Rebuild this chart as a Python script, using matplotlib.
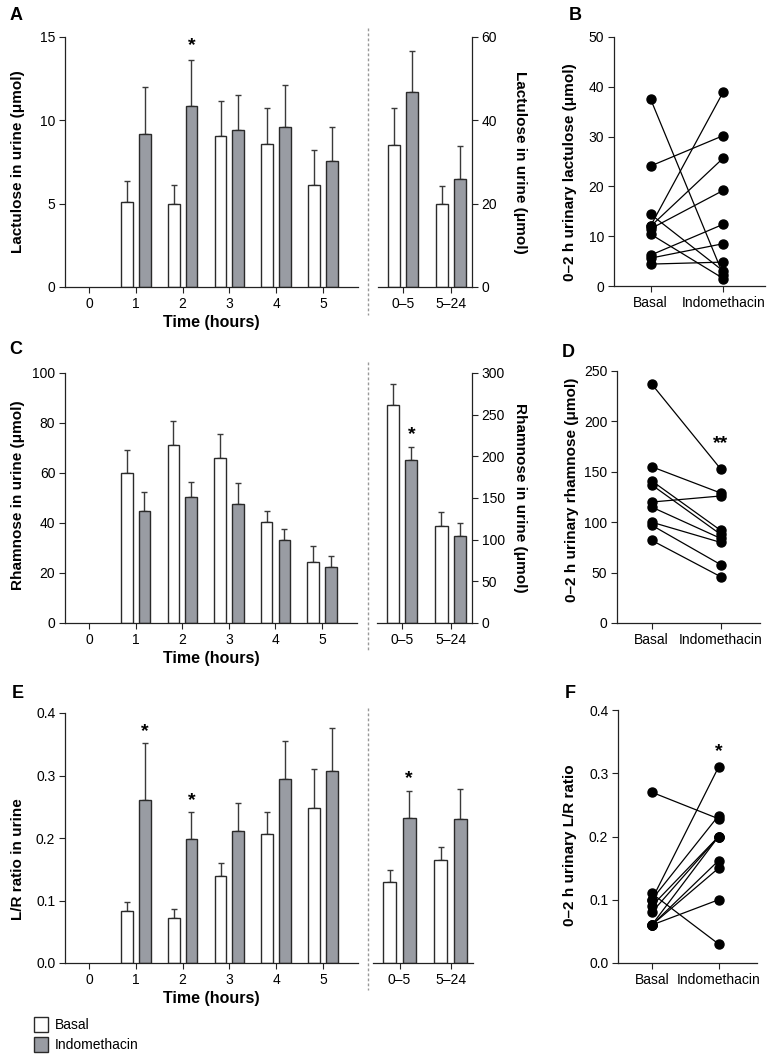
import matplotlib
matplotlib.use('Agg')
import matplotlib.pyplot as plt
from matplotlib.lines import Line2D
from matplotlib.patches import Patch
import numpy as np

plt.rcParams['font.family'] = ['Liberation Sans', 'DejaVu Sans']
plt.rcParams['font.size'] = 10

# ---- data ----
hours = ['0', '1', '2', '3', '4', '5']
periods = ['0\u20135', '5\u201324']
nan = np.nan

# lactulose (umol), hourly and per period
lac_basal = [nan, 5.1, 4.96, 9.06, 8.58, 6.14]
lac_basal_err = [nan, 1.26, 1.16, 2.12, 2.16, 2.08]
lac_indo = [nan, 9.2, 10.84, 9.44, 9.62, 7.56]
lac_indo_err = [nan, 2.8, 2.8, 2.1, 2.5, 2.04]
lac_p_basal = [34.0, 19.9]
lac_p_basal_err = [9.0, 4.3]
lac_p_indo = [46.8, 25.9]
lac_p_indo_err = [9.8, 7.9]

# rhamnose (umol)
rha_basal = [nan, 59.9, 71.2, 66.1, 40.3, 24.5]
rha_basal_err = [nan, 9.3, 9.5, 9.5, 4.7, 6.5]
rha_indo = [nan, 44.9, 50.5, 47.6, 33.1, 22.5]
rha_indo_err = [nan, 7.4, 6.0, 8.4, 4.6, 4.2]
rha_p_basal = [262, 116]
rha_p_basal_err = [25, 17]
rha_p_indo = [196, 104]
rha_p_indo_err = [15, 16]

# L/R ratio
lr_basal = [nan, 0.084, 0.072, 0.139, 0.207, 0.248]
lr_basal_err = [nan, 0.013, 0.015, 0.021, 0.035, 0.063]
lr_indo = [nan, 0.261, 0.198, 0.211, 0.295, 0.307]
lr_indo_err = [nan, 0.091, 0.044, 0.045, 0.060, 0.069]
lr_p_basal = [0.130, 0.165]
lr_p_basal_err = [0.019, 0.020]
lr_p_indo = [0.232, 0.231]
lr_p_indo_err = [0.043, 0.047]

# individual subjects, 0-2 h
groups = ['Basal', 'Indomethacin']
sub_lac_basal = [37.5, 24.1, 14.4, 12.1, 12.0, 11.5, 10.4, 6.2, 5.6, 4.4]
sub_lac_indo = [2.2, 30.2, 3.0, 39.0, 25.7, 19.2, 1.5, 12.4, 8.5, 4.8]
sub_rha_basal = [237, 155, 141, 137, 120, 115, 100, 97, 82]
sub_rha_indo = [153, 129, 92, 88, 126, 84, 80, 58, 46]
sub_lr_basal = [0.27, 0.10, 0.11, 0.10, 0.09, 0.08, 0.06, 0.06, 0.06, 0.06]
sub_lr_indo = [0.228, 0.31, 0.03, 0.233, 0.20, 0.20, 0.20, 0.162, 0.15, 0.10]

# ---- figure ----
W, H = 782, 1058
fig = plt.figure(figsize=(W / 100, H / 100), dpi=100)

GREY = '#999ca3'
EDGE = '#2a2a2a'
ERR = '#3a3a3a'
OFF = 0.19
BW = 0.25


def rect(l, t, r, b):
    return [l / W, 1 - b / H, (r - l) / W, (b - t) / H]


def base_style(ax):
    for s in ax.spines.values():
        s.set_linewidth(0.9)
        s.set_color('#222222')
    ax.spines['top'].set_visible(False)
    ax.tick_params(direction='out', length=4, width=0.8, pad=3, labelsize=10, color='#222222')


def draw_bars(ax, basal, basal_err, indo, indo_err):
    x = np.arange(len(basal))
    zeros = np.zeros(len(basal))
    ax.bar(x - OFF, basal, BW, color='white', edgecolor=EDGE, linewidth=1, zorder=2)
    ax.bar(x + OFF, indo, BW, color=GREY, edgecolor=EDGE, linewidth=1, zorder=2)
    ax.errorbar(x - OFF, basal, yerr=[zeros, basal_err], fmt='none', ecolor=ERR,
                elinewidth=1, capsize=2.5, capthick=1, zorder=1)
    ax.errorbar(x + OFF, indo, yerr=[zeros, indo_err], fmt='none', ecolor=ERR,
                elinewidth=1, capsize=2.5, capthick=1, zorder=1)


def star(ax, i, top, txt='*', dy=7):
    ax.annotate(txt, xy=(i + OFF, top), xytext=(0, dy), textcoords='offset points',
                ha='center', va='center', fontsize=14, fontweight='bold')


def bar_panel(top, bottom, left_r, right_l, right_r, basal, basal_err, indo, indo_err,
              p_basal, p_basal_err, p_indo, p_indo_err, ylim, yticks, ylim2, yticks2,
              right_axis=True, fmt=None):
    ax = fig.add_axes(rect(65, top, left_r, bottom))
    base_style(ax)
    ax.spines['right'].set_visible(False)
    draw_bars(ax, basal, basal_err, indo, indo_err)
    ax.set_xlim(-0.513, 5.748)
    ax.set_xticks(range(len(hours)))
    ax.set_xticklabels(hours)
    ax.set_ylim(*ylim)
    ax.set_yticks(yticks)
    if fmt:
        ax.set_yticklabels([fmt % v for v in yticks])
    ax.set_xlabel('Time (hours)', fontweight='bold', fontsize=11.5, labelpad=3)

    ax2 = fig.add_axes(rect(right_l, top, right_r, bottom))
    base_style(ax2)
    ax2.spines['left'].set_visible(False)
    draw_bars(ax2, p_basal, p_basal_err, p_indo, p_indo_err)
    ax2.set_xlim(-0.52, 1.44)
    ax2.set_xticks(range(len(periods)))
    ax2.set_xticklabels(periods)
    ax2.set_ylim(*ylim2)
    if right_axis:
        ax2.yaxis.tick_right()
        ax2.set_yticks(yticks2)
    else:
        ax2.spines['right'].set_visible(False)
        ax2.set_yticks([])
    return ax, ax2


def pair_panel(l, t, r, b, vb, vi, ylim, yticks, fmt=None):
    ax = fig.add_axes(rect(l, t, r, b))
    base_style(ax)
    ax.spines['right'].set_visible(False)
    for a, c in zip(vb, vi):
        ax.plot([0, 1], [a, c], color='black', lw=0.9, zorder=1)
    ax.plot(np.zeros(len(vb)), vb, 'o', color='black', ms=6.5, zorder=2, clip_on=False)
    ax.plot(np.ones(len(vi)), vi, 'o', color='black', ms=6.5, zorder=2, clip_on=False)
    ax.set_xlim(-0.505, 1.574)
    ax.set_xticks([0, 1])
    ax.set_xticklabels(groups)
    ax.set_ylim(*ylim)
    ax.set_yticks(yticks)
    if fmt:
        ax.set_yticklabels([fmt % v for v in yticks])
    return ax


def dashed(x, y0, y1):
    fig.add_artist(Line2D([x / W, x / W], [1 - y0 / H, 1 - y1 / H], color='#999999',
                          lw=1, linestyle=(0, (2, 1.6))))


def ylab(x, y, txt, rot=90):
    fig.text(x / W, 1 - y / H, txt, rotation=rot, ha='center', va='center',
             fontweight='bold', fontsize=11)


def letter(x, y, txt):
    fig.text(x / W, 1 - y / H, txt, ha='center', va='center', fontweight='bold', fontsize=13)


# A
axA, axA2 = bar_panel(37, 287, 358, 378, 472, lac_basal, lac_basal_err, lac_indo, lac_indo_err,
                      lac_p_basal, lac_p_basal_err, lac_p_indo, lac_p_indo_err,
                      (0, 15), [0, 5, 10, 15], (0, 60), [0, 20, 40, 60])
star(axA, 2, lac_indo[2] + lac_indo_err[2], dy=10)
dashed(368, 28, 315)
ylab(18, 162, 'Lactulose in urine (\u03bcmol)')
ylab(520, 162, 'Lactulose in urine (\u03bcmol)', rot=270)
letter(16, 16, 'A')

# B
pair_panel(614, 37, 765, 286, sub_lac_basal, sub_lac_indo, (0, 50), [0, 10, 20, 30, 40, 50])
ylab(570, 172, '0\u20132 h urinary lactulose (\u03bcmol)')
letter(575, 16, 'B')

# C
axC, axC2 = bar_panel(373, 623, 357, 377, 472, rha_basal, rha_basal_err, rha_indo, rha_indo_err,
                      rha_p_basal, rha_p_basal_err, rha_p_indo, rha_p_indo_err,
                      (0, 100), [0, 20, 40, 60, 80, 100], (0, 300), [0, 50, 100, 150, 200, 250, 300])
star(axC2, 0, rha_p_indo[0] + rha_p_indo_err[0], dy=9)
dashed(368, 362, 652)
ylab(18, 495, 'Rhamnose in urine (\u03bcmol)')
ylab(520, 498, 'Rhamnose in urine (\u03bcmol)', rot=270)
letter(16, 350, 'C')

# D
axD = pair_panel(617, 371, 760, 623, sub_rha_basal, sub_rha_indo, (0, 250), [0, 50, 100, 150, 200, 250])
axD.text(1, 178, '**', ha='center', va='center', fontsize=14, fontweight='bold')
ylab(572, 490, '0\u20132 h urinary rhamnose (\u03bcmol)')
letter(568, 352, 'D')

# E
axE, axE2 = bar_panel(713, 963, 358, 373, 473, lr_basal, lr_basal_err, lr_indo, lr_indo_err,
                      lr_p_basal, lr_p_basal_err, lr_p_indo, lr_p_indo_err,
                      (0, 0.4), [0, 0.1, 0.2, 0.3, 0.4], (0, 0.4), [], right_axis=False, fmt='%.1f')
star(axE, 1, lr_indo[1] + lr_indo_err[1], dy=8)
star(axE, 2, lr_indo[2] + lr_indo_err[2], dy=8)
star(axE2, 0, lr_p_indo[0] + lr_p_indo_err[0], dy=9)
dashed(368, 708, 990)
ylab(18, 859, 'L/R ratio in urine')
letter(18, 693, 'E')

# F
axF = pair_panel(618, 710, 757, 963, sub_lr_basal, sub_lr_indo, (0, 0.4), [0, 0.1, 0.2, 0.3, 0.4], fmt='%.1f')
axF.text(1, 0.335, '*', ha='center', va='center', fontsize=14, fontweight='bold')
ylab(570, 845, '0\u20132 h urinary L/R ratio')
letter(570, 693, 'F')

# legend
handles = [Patch(facecolor='white', edgecolor=EDGE, linewidth=1),
           Patch(facecolor=GREY, edgecolor=EDGE, linewidth=1)]
fig.legend(handles, groups, loc='lower left', bbox_to_anchor=(34 / W, 1 - 1052 / H),
           frameon=False, fontsize=10, handlelength=1.0, handleheight=1.3,
           handletextpad=0.5, labelspacing=0.35, borderpad=0, borderaxespad=0)

fig.savefig('out.png', dpi=100)
